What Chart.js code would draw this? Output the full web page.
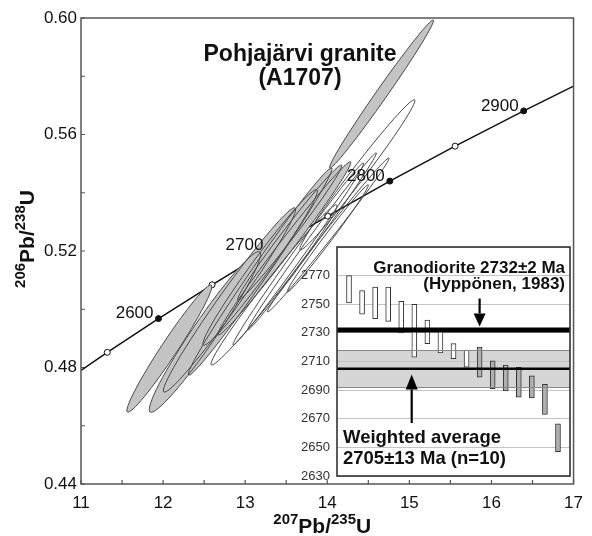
<!DOCTYPE html>
<html>
<head>
<meta charset="utf-8">
<script src="https://cdn.jsdelivr.net/npm/chart.js@4.4.0/dist/chart.umd.min.js"></script>
<style>
  body { margin: 0; background: #fff; }
  #wrap { position: relative; width: 592px; height: 536px; overflow: hidden; }
  #mainChart { position: absolute; left: 0; top: 0; }
  #insetChart { position: absolute; left: 290px; top: 240px; }
</style>
</head>
<body>
<div id="wrap">
  <canvas id="mainChart" width="592" height="536"></canvas>
  <canvas id="insetChart" width="285" height="242"></canvas>
</div>
<script>
// concordia curve (207Pb/235U vs 206Pb/238U), ages in Ma
const concAges = [null, 2550, 2600, 2650, 2700, 2750, 2800, 2850, 2900, null];
const concX = [11.0, 11.32, 11.944, 12.597, 13.283, 14.005, 14.762, 15.557, 16.393, 17.0];
const concY = [0.4790, 0.4852, 0.4968, 0.5084, 0.5202, 0.5320, 0.5440, 0.5560, 0.5681, 0.5766];
const labelledAges = [2600, 2700, 2800, 2900];

// error ellipses: the two ends of the long axis, width/length ratio, grey or open
const ellX1 = [11.565, 11.842, 12.010, 12.311, 14.030, 12.671, 12.491, 12.912, 12.587, 13.669, 13.032, 12.852, 13.272, 13.513];
const ellY1 = [0.4647, 0.4647, 0.4716, 0.4774, 0.5485, 0.4912, 0.4877, 0.5032, 0.4809, 0.5204, 0.4929, 0.4877, 0.4991, 0.5059];
const ellX2 = [12.587, 13.176, 13.609, 14.054, 15.292, 14.284, 13.874, 14.174, 14.114, 15.064, 14.597, 14.441, 14.751, 14.499];
const ellY2 = [0.5083, 0.5197, 0.5348, 0.5485, 0.5993, 0.5506, 0.5410, 0.5495, 0.5358, 0.5719, 0.5537, 0.5502, 0.5519, 0.5427];
const ellAspect = [0.105, 0.123, 0.088, 0.063, 0.061, 0.064, 0.093, 0.070, 0.078, 0.074, 0.041, 0.045, 0.046, 0.059];
const ellGray = [true, true, true, true, true, true, true, true, false, false, false, false, false, false];

// inset: 207Pb/206Pb ages of the spots
const spotNo = [1, 2, 3, 4, 5, 6, 7, 8, 9, 10, 11, 12, 13, 14, 15, 16, 17];
const ageLow = [2751, 2743, 2740, 2738, 2730, 2713, 2722.5, 2716, 2712, 2706, 2699, 2691, 2689.5, 2685, 2684.5, 2673, 2647];
const ageHigh = [2770, 2759.5, 2762, 2762, 2752, 2750, 2739, 2731, 2722.5, 2718, 2720, 2710.5, 2707.5, 2706, 2700, 2694, 2666.5];
const spotGray = [false, false, false, false, false, false, false, false, false, false, true, true, true, true, true, true, true];
const granodioriteAge = 2732;
const weightedAge = 2705;
const weightedErr = 13;

const FONT = '"Liberation Sans", Arial, sans-serif';
Chart.defaults.font.family = FONT;

function drawSupText(ctx, parts, x, y, size, supSize, raise) {
  let total = 0;
  parts.forEach(p => {
    ctx.font = 'bold ' + (p.sup ? supSize : size) + 'px ' + FONT;
    p.w = ctx.measureText(p.t).width;
    total += p.w;
  });
  let cx = x - total / 2;
  ctx.textAlign = 'left';
  ctx.textBaseline = 'alphabetic';
  parts.forEach(p => {
    ctx.font = 'bold ' + (p.sup ? supSize : size) + 'px ' + FONT;
    ctx.fillText(p.t, cx, p.sup ? y - raise : y);
    cx += p.w;
  });
}

const framePlugin = {
  id: 'frame',
  beforeDatasetsDraw(chart) {
    const { ctx, chartArea: a, scales: { x, y } } = chart;
    ctx.save();
    ctx.strokeStyle = '#555';
    ctx.lineWidth = 1.2;
    ctx.beginPath();
    x.ticks.forEach(t => {
      const px = x.getPixelForValue(t.value);
      ctx.moveTo(px, a.bottom);
      ctx.lineTo(px, a.bottom - 4);
    });
    y.ticks.forEach(t => {
      const py = y.getPixelForValue(t.value);
      ctx.moveTo(a.left, py);
      ctx.lineTo(a.left + 4, py);
    });
    ctx.stroke();
    ctx.restore();
  },
  afterDraw(chart) {
    const { ctx, chartArea: a } = chart;
    ctx.save();
    ctx.strokeStyle = '#555';
    ctx.lineWidth = 1.5;
    ctx.strokeRect(a.left, a.top, a.right - a.left, a.bottom - a.top);
    ctx.restore();
  }
};

const ellipsePlugin = {
  id: 'ellipses',
  afterDatasetsDraw(chart) {
    const { ctx, chartArea: a, scales: { x, y } } = chart;
    const shapes = ellX1.map((v, i) => {
      const ax = x.getPixelForValue(ellX1[i]), ay = y.getPixelForValue(ellY1[i]);
      const bx = x.getPixelForValue(ellX2[i]), by = y.getPixelForValue(ellY2[i]);
      const half = Math.hypot(bx - ax, by - ay) / 2;
      return { cx: (ax + bx) / 2, cy: (ay + by) / 2, r1: half, r2: half * ellAspect[i],
               rot: Math.atan2(by - ay, bx - ax), gray: ellGray[i] };
    });
    ctx.save();
    ctx.beginPath();
    ctx.rect(a.left, a.top, a.right - a.left, a.bottom - a.top);
    ctx.clip();
    shapes.forEach(s => {
      if (!s.gray) return;
      ctx.beginPath();
      ctx.ellipse(s.cx, s.cy, s.r1, s.r2, s.rot, 0, Math.PI * 2);
      ctx.fillStyle = '#c4c4c4';
      ctx.fill();
    });
    shapes.forEach(s => {
      ctx.beginPath();
      ctx.ellipse(s.cx, s.cy, s.r1, s.r2, s.rot, 0, Math.PI * 2);
      ctx.strokeStyle = '#4a4a4a';
      ctx.lineWidth = 1;
      ctx.stroke();
    });
    ctx.restore();
  }
};

const textPlugin = {
  id: 'texts',
  afterDraw(chart) {
    const { ctx, chartArea: a, scales: { x, y } } = chart;
    ctx.save();
    ctx.fillStyle = '#111';
    // age labels on concordia
    ctx.font = '17px ' + FONT;
    ctx.textAlign = 'right';
    ctx.textBaseline = 'middle';
    labelledAges.forEach(age => {
      const i = concAges.indexOf(age);
      ctx.fillText(String(age), x.getPixelForValue(concX[i]) - 5, y.getPixelForValue(concY[i]) - 5);
    });
    // sample name
    ctx.font = 'bold 23px ' + FONT;
    ctx.textAlign = 'center';
    ctx.fillText('Pohjajärvi granite', 300, 55);
    ctx.fillText('(A1707)', 300, 79);
    // axis titles
    drawSupText(ctx, [{ t: '207', sup: true }, { t: 'Pb/' }, { t: '235', sup: true }, { t: 'U' }],
      (a.left + a.right) / 2 - 5, 533, 21, 15, 9);
    ctx.save();
    ctx.translate(34, 239);
    ctx.rotate(-Math.PI / 2);
    drawSupText(ctx, [{ t: '206', sup: true }, { t: 'Pb/' }, { t: '238', sup: true }, { t: 'U' }],
      0, 0, 21, 15, 9);
    ctx.restore();
    ctx.restore();
  }
};

new Chart(document.getElementById('mainChart'), {
  type: 'scatter',
  data: {
    datasets: [{
      data: concX.map((v, i) => ({ x: v, y: concY[i] })),
      showLine: true,
      borderColor: '#111',
      borderWidth: 1.5,
      pointRadius: concAges.map(a => a === null ? 0 : 3),
      pointBackgroundColor: concAges.map(a => labelledAges.includes(a) ? '#111' : '#fff'),
      pointBorderColor: '#111',
      pointBorderWidth: 1
    }]
  },
  options: {
    responsive: false,
    animation: false,
    devicePixelRatio: 1,
    layout: { padding: { top: 18, right: 12, left: 0, bottom: 0 } },
    plugins: { legend: { display: false }, tooltip: { enabled: false } },
    scales: {
      x: {
        type: 'linear', min: 11, max: 17,
        afterFit: s => { s.height = 52; },
        grid: { display: false, drawTicks: false },
        border: { display: false },
        ticks: {
          stepSize: 0.5, padding: 9, autoSkip: false, maxRotation: 0,
          color: '#111', font: { size: 17 },
          callback: v => Number.isInteger(v) ? String(v) : ''
        }
      },
      y: {
        type: 'linear', min: 0.44, max: 0.60,
        afterFit: s => { s.width = 81; },
        grid: { display: false, drawTicks: false },
        border: { display: false },
        ticks: {
          stepSize: 0.02, padding: 4, autoSkip: false,
          color: '#111', font: { size: 17 },
          callback: v => Math.round(v * 100) % 4 === 0 ? v.toFixed(2) : ''
        }
      }
    }
  },
  plugins: [framePlugin, ellipsePlugin, textPlugin]
});

// inset chart
function drawArrow(ctx, px, fromY, toY, headW, headL) {
  const dir = toY > fromY ? 1 : -1;
  ctx.beginPath();
  ctx.moveTo(px, fromY);
  ctx.lineTo(px, toY - dir * headL);
  ctx.stroke();
  ctx.beginPath();
  ctx.moveTo(px, toY);
  ctx.lineTo(px - headW / 2, toY - dir * headL);
  ctx.lineTo(px + headW / 2, toY - dir * headL);
  ctx.closePath();
  ctx.fill();
}

const insetPlugin = {
  id: 'insetDecor',
  beforeDraw(chart) {
    const { ctx, chartArea: a, scales: { y } } = chart;
    ctx.save();
    ctx.fillStyle = '#fff';
    ctx.fillRect(a.left, a.top, a.right - a.left, a.bottom - a.top);
    const yTop = y.getPixelForValue(weightedAge + weightedErr);
    const yBot = y.getPixelForValue(weightedAge - weightedErr);
    ctx.fillStyle = '#d6d6d6';
    ctx.fillRect(a.left, yTop, a.right - a.left, yBot - yTop);
    ctx.restore();
  },
  afterDatasetsDraw(chart) {
    const { ctx, chartArea: a, scales: { x, y } } = chart;
    ctx.save();
    // band edges
    ctx.strokeStyle = '#888';
    ctx.lineWidth = 1;
    [weightedAge + weightedErr, weightedAge - weightedErr].forEach(v => {
      const py = Math.round(y.getPixelForValue(v)) + 0.5;
      ctx.beginPath(); ctx.moveTo(a.left, py); ctx.lineTo(a.right, py); ctx.stroke();
    });
    // reference lines
    ctx.strokeStyle = '#000';
    ctx.lineWidth = 5;
    let py = y.getPixelForValue(granodioriteAge);
    ctx.beginPath(); ctx.moveTo(a.left, py); ctx.lineTo(a.right, py); ctx.stroke();
    ctx.lineWidth = 2.5;
    py = y.getPixelForValue(weightedAge);
    ctx.beginPath(); ctx.moveTo(a.left, py); ctx.lineTo(a.right, py); ctx.stroke();
    // arrows
    ctx.fillStyle = '#000';
    ctx.lineWidth = 2.2;
    drawArrow(ctx, x.getPixelForValue(11), y.getPixelForValue(2754), y.getPixelForValue(2734.5), 12, 13);
    drawArrow(ctx, x.getPixelForValue(5.8), y.getPixelForValue(2667), y.getPixelForValue(2701), 12, 15);
    ctx.restore();
  },
  afterDraw(chart) {
    const { ctx, chartArea: a } = chart;
    ctx.save();
    ctx.fillStyle = '#111';
    ctx.textBaseline = 'alphabetic';
    ctx.font = 'bold 17px ' + FONT;
    ctx.textAlign = 'right';
    ctx.fillText('Granodiorite 2732±2 Ma', a.right - 5, a.top + 26);
    ctx.fillText('(Hyppönen, 1983)', a.right - 5, a.top + 42);
    ctx.font = 'bold 18.5px ' + FONT;
    ctx.textAlign = 'left';
    ctx.fillText('Weighted average', a.left + 6, a.top + 196);
    ctx.fillText('2705±13 Ma (n=10)', a.left + 6, a.top + 217);
    ctx.strokeStyle = '#333';
    ctx.lineWidth = 1.6;
    ctx.strokeRect(a.left, a.top, a.right - a.left, a.bottom - a.top);
    ctx.restore();
  }
};

new Chart(document.getElementById('insetChart'), {
  type: 'bar',
  data: {
    datasets: [{
      data: spotNo.map((n, i) => ({ x: n, y: [ageLow[i], ageHigh[i]] })),
      backgroundColor: spotGray.map(g => g ? '#b0b0b0' : '#fff'),
      borderColor: '#333',
      borderWidth: 1,
      borderSkipped: false,
      barThickness: 5
    }]
  },
  options: {
    responsive: false,
    animation: false,
    devicePixelRatio: 1,
    layout: { padding: { top: 7, right: 5, bottom: 6, left: 0 } },
    plugins: { legend: { display: false }, tooltip: { enabled: false } },
    scales: {
      x: { type: 'linear', min: 0.08, max: 17.92, offset: false, display: false },
      y: {
        type: 'linear', min: 2630, max: 2790,
        afterFit: s => { s.width = 47; s.paddingTop = 0; s.paddingBottom = 0; },
        grid: { drawTicks: false, color: '#c4c4c4', lineWidth: 1 },
        border: { display: false },
        ticks: {
          stepSize: 20, padding: 7, autoSkip: false,
          color: '#333', font: { size: 13 },
          callback: v => v < 2790 ? String(v) : ''
        }
      }
    }
  },
  plugins: [insetPlugin]
});
</script>
</body>
</html>
